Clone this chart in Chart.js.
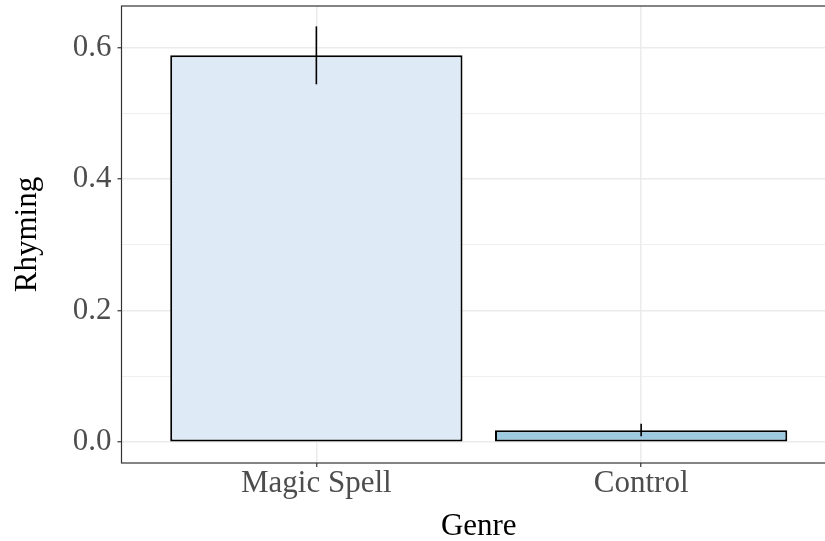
<!DOCTYPE html>
<html>
<head>
<meta charset="utf-8">
<script src="https://cdn.jsdelivr.net/npm/chart.js@4"></script>
<style>
  html, body { margin: 0; padding: 0; background: #fff; overflow: hidden; }
  #clip { width: 825px; height: 541px; overflow: hidden; }
  #wrap { width: 838px; height: 541px; }
</style>
</head>
<body>
<div id="clip"><div id="wrap"><canvas id="rhymeChart"></canvas></div></div>
<script>
// rhyming proportion by genre, with error bar ends
const categories = ["Magic Spell", "Control"];
const rhyming = [0.588, 0.018];
const errLow = [0.544, 0.009];
const errHigh = [0.632, 0.028];
const barColors = ["#DEEBF7", "#9ECAE1"];
const yTicks = [0, 0.1, 0.2, 0.3, 0.4, 0.5, 0.6];

const serif = "'Liberation Serif', 'DejaVu Serif', serif";
const isMajor = v => Math.round(v * 10) % 2 === 0;

// vertical error lines + full panel border
const extras = {
  id: "extras",
  afterDatasetsDraw(chart) {
    const { ctx, scales } = chart;
    ctx.save();
    ctx.strokeStyle = "#000";
    ctx.lineWidth = 1.6;
    categories.forEach((c, i) => {
      const x = scales.x.getPixelForValue(i + 1);
      ctx.beginPath();
      ctx.moveTo(x, scales.y.getPixelForValue(errLow[i]));
      ctx.lineTo(x, scales.y.getPixelForValue(errHigh[i]));
      ctx.stroke();
    });
    ctx.restore();
  },
  afterDraw(chart) {
    const a = chart.chartArea;
    const ctx = chart.ctx;
    ctx.save();
    ctx.strokeStyle = "#333";
    ctx.lineWidth = 1.2;
    ctx.strokeRect(a.left, a.top, a.right - a.left, a.bottom - a.top);
    ctx.restore();
  }
};

new Chart(document.getElementById("rhymeChart"), {
  type: "bar",
  data: {
    datasets: [{
      data: categories.map((c, i) => ({ x: i + 1, y: rhyming[i] })),
      backgroundColor: barColors,
      borderColor: "#000",
      borderWidth: 2,
      borderSkipped: false,
      barPercentage: 0.9,
      categoryPercentage: 1
    }]
  },
  options: {
    responsive: true,
    maintainAspectRatio: false,
    animation: false,
    layout: { padding: { top: 6, right: 2, left: 0, bottom: 0 } },
    plugins: { legend: { display: false }, tooltip: { enabled: false } },
    scales: {
      x: {
        type: "linear",
        min: 0.4,
        max: 2.6,
        offset: false,
        afterBuildTicks: s => { s.ticks = categories.map((c, i) => ({ value: i + 1 })); },
        afterFit: s => { s.height = 78; s.paddingLeft = 0; s.paddingRight = 0; },
        ticks: {
          callback: v => categories[v - 1],
          color: "#4D4D4D",
          font: { family: serif, size: 31 },
          padding: -2,
          maxRotation: 0
        },
        grid: { offset: false, color: "#EBEBEB", lineWidth: 1.5, tickColor: "#333", tickLength: 4, tickWidth: 1.2 },
        border: { display: false },
        title: {
          display: true,
          text: "Genre",
          color: "#000",
          font: { family: serif, size: 31 },
          padding: { top: 0, bottom: -4 }
        }
      },
      y: {
        min: -0.0316,
        max: 0.663,
        afterBuildTicks: s => { s.ticks = yTicks.map(v => ({ value: v })); },
        afterFit: s => { s.width = 121.5; s.paddingTop = 0; s.paddingBottom = 0; },
        ticks: {
          callback: v => isMajor(v) ? v.toFixed(1) : "",
          color: "#4D4D4D",
          font: { family: serif, size: 31 },
          padding: 6
        },
        grid: {
          color: "#EBEBEB",
          lineWidth: c => isMajor(c.tick.value) ? 1.5 : 0.8,
          tickColor: c => isMajor(c.tick.value) ? "#333" : "rgba(0,0,0,0)",
          tickLength: 4,
          tickWidth: 1.2
        },
        border: { display: false },
        title: {
          display: true,
          text: "Rhyming",
          color: "#000",
          font: { family: serif, size: 31 },
          padding: { top: 9, bottom: 0 }
        }
      }
    }
  },
  plugins: [extras]
});
</script>
</body>
</html>
